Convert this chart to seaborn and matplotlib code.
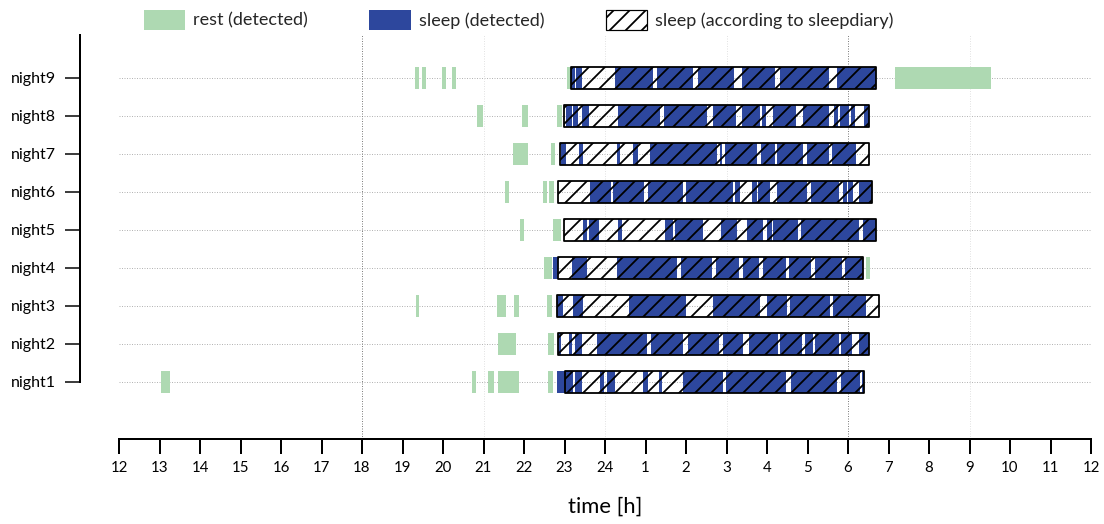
import matplotlib
matplotlib.use("Agg")
import matplotlib.pyplot as plt
import seaborn as sns
from matplotlib.patches import Patch

# ---------------- data (hours; values > 24 are after midnight) ----------------
nights = ["night1", "night2", "night3", "night4", "night5",
          "night6", "night7", "night8", "night9"]

tick_positions = list(range(12, 37))
tick_labels = ["12", "13", "14", "15", "16", "17", "18", "19", "20", "21", "22", "23", "24",
               "1", "2", "3", "4", "5", "6", "7", "8", "9", "10", "11", "12"]

rest_periods = [
    [(13.04, 13.26), (20.72, 20.81), (21.11, 21.26), (21.36, 21.88), (22.59, 22.72)],
    [(21.36, 21.80), (22.59, 22.74)],
    [(19.33, 19.41), (21.33, 21.56), (21.75, 21.88), (22.57, 22.69)],
    [(22.49, 22.69), (30.44, 30.54)],
    [(21.90, 21.99), (22.72, 22.91)],
    [(21.53, 21.63), (22.47, 22.57), (22.62, 22.74)],
    [(21.73, 22.10), (22.67, 22.77)],
    [(20.84, 20.99), (21.95, 22.10), (22.81, 22.94)],
    [(19.31, 19.41), (19.48, 19.58), (19.98, 20.07), (20.22, 20.32), (23.06, 23.16), (31.16, 33.53)],
]

sleep_periods = [
    [(22.81, 23.21), (23.26, 23.43), (23.88, 23.98), (24.05, 24.25), (24.94, 25.06), (25.33, 25.41),
     (25.93, 26.91), (26.99, 28.47), (28.59, 29.73), (29.83, 30.30), (30.35, 30.40)],
    [(22.84, 22.91), (23.11, 23.19), (23.26, 23.43), (23.80, 25.04), (25.14, 25.93), (26.05, 26.81),
     (26.91, 27.41), (27.56, 28.27), (28.32, 28.86), (28.94, 29.14), (29.19, 29.78), (29.83, 30.10),
     (30.27, 30.52)],
    [(22.81, 22.96), (23.21, 23.46), (24.59, 26.00), (26.67, 27.83), (28.00, 28.49), (28.57, 29.56),
     (29.63, 30.44)],
    [(22.72, 22.84), (23.19, 23.56), (24.30, 25.78), (25.88, 26.64), (26.74, 27.31), (27.41, 27.80),
     (27.90, 28.47), (28.54, 29.09), (29.19, 29.85), (29.93, 30.37)],
    [(23.46, 23.56), (23.60, 23.85), (24.32, 24.42), (25.48, 25.68), (25.73, 26.42), (26.86, 27.26),
     (27.51, 27.90), (28.00, 28.12), (28.15, 28.77), (28.84, 30.27), (30.37, 30.69)],
    [(23.63, 24.15), (24.20, 24.96), (25.06, 25.93), (26.00, 27.16), (27.21, 27.33), (27.63, 27.75),
     (27.78, 28.07), (28.25, 28.99), (29.09, 29.78), (29.88, 29.98), (30.00, 30.12), (30.27, 30.59)],
    [(22.91, 23.04), (23.36, 23.46), (24.30, 24.37), (24.69, 24.81), (25.11, 26.77), (26.84, 26.89),
     (26.96, 27.75), (27.85, 28.20), (28.25, 28.89), (28.99, 29.53), (29.60, 30.20)],
    [(23.04, 23.19), (23.21, 23.33), (23.43, 23.60), (24.32, 25.36), (25.46, 26.52), (26.67, 27.23),
     (27.38, 27.83), (27.88, 27.98), (28.15, 28.72), (28.89, 29.53), (29.65, 29.75), (29.80, 30.02),
     (30.07, 30.17), (30.40, 30.52)],
    [(23.16, 23.26), (23.28, 23.43), (24.25, 25.19), (25.28, 26.17), (26.30, 27.19), (27.39, 28.20),
     (28.32, 29.53), (29.73, 30.69)],
]

diary_periods = [(23.01, 30.40), (22.84, 30.52), (22.81, 30.77), (22.84, 30.37), (22.99, 30.69),
                 (22.84, 30.59), (22.89, 30.52), (22.99, 30.52), (23.16, 30.69)]

legend_labels = ["rest (detected)", "sleep (detected)", "sleep (according to sleepdiary)"]

# ---------------- style ----------------
REST_C = "#aed9b2"
SLEEP_C = "#2d479d"

DPI = 48
S = 72 / DPI  # points per pixel

sns.set_theme(style="white")
plt.rcParams["font.family"] = ["Lato", "DejaVu Sans"]
plt.rcParams["hatch.linewidth"] = 1.8 * S

fig = plt.figure(figsize=(1104 / DPI, 524 / DPI), dpi=DPI)
ax = fig.add_axes([119 / 1104, 85 / 524, 972 / 1104, 404 / 524])

BAR_H = 0.6
ypos = list(range(1, len(nights) + 1))

# spines first (set_position resets tick formatting)
for side in ["top", "right"]:
    ax.spines[side].set_visible(False)
ax.spines["left"].set_position(("outward", 39 * S))
ax.spines["left"].set_bounds(1, 10.13)
ax.spines["left"].set_linewidth(2 * S)
ax.spines["left"].set_color("black")
ax.spines["bottom"].set_linewidth(2 * S)
ax.spines["bottom"].set_color("black")

# grid lines
dots = (0, (1, 1.5))
for y in ypos:
    ax.axhline(y, color="#b5b5b5", lw=1.0 * S, ls=dots, zorder=0)
for x in [21, 24, 27, 33]:
    ax.axvline(x, color="#e3e3e3", lw=1.0 * S, ls=dots, zorder=0)
for x in [18, 30]:
    ax.axvline(x, color="#808080", lw=1.0 * S, ls=dots, zorder=0)

for y, rest, sleep, diary in zip(ypos, rest_periods, sleep_periods, diary_periods):
    ax.broken_barh([(s, e - s) for s, e in rest], (y - BAR_H / 2, BAR_H),
                   facecolors=REST_C, edgecolor="none", zorder=2)
    ax.broken_barh([(s, e - s) for s, e in sleep], (y - BAR_H / 2, BAR_H),
                   facecolors=SLEEP_C, edgecolor="none", zorder=2)
    ax.broken_barh([(diary[0], diary[1] - diary[0])], (y - BAR_H / 2, BAR_H),
                   facecolors="none", edgecolor="black", linewidth=1.8 * S,
                   hatch="/", zorder=3)

ax.set_xlim(12, 36)
ax.set_ylim(-0.5, 10.13)

ax.set_xticks(tick_positions)
ax.set_xticklabels(tick_labels)
ax.set_yticks(ypos)
ax.set_yticklabels(nights)

ax.tick_params(axis="x", direction="out", length=15 * S, width=2 * S, pad=7 * S, color="black",
               labelcolor="black", labelsize=15 * S, bottom=True)
ax.tick_params(axis="y", direction="out", length=15 * S, width=1.5 * S, pad=9 * S, color="black",
               labelcolor="black", labelsize=16 * S, left=True)

ax.set_xlabel("time [h]", fontsize=22 * S, labelpad=22 * S, color="black")

handles = [Patch(facecolor=REST_C, edgecolor="none"),
           Patch(facecolor=SLEEP_C, edgecolor="none"),
           Patch(facecolor="white", edgecolor="black", hatch="/", linewidth=1.2 * S)]
fig.legend(handles, legend_labels, loc="upper left", bbox_to_anchor=(134 / 1104, 1.0),
           ncol=3, frameon=False, fontsize=18 * S, handlelength=2.3, handleheight=1.3,
           handletextpad=0.45, columnspacing=3.4, borderaxespad=0.15)

fig.savefig("out.png", dpi=DPI)
